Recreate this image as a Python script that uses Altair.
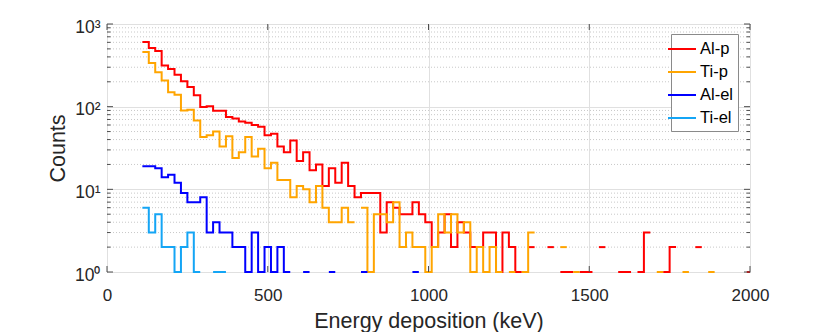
import altair as alt
import pandas as pd

# ---------------- data ----------------
BIN_START = 110      # keV, left edge of first bin
BIN_WIDTH = 20       # keV

series_names = ["Al-p", "Ti-p", "Al-el", "Ti-el"]
series_colors = ["#FF0000", "#FFA500", "#0000FF", "#14A5F5"]

al_p = [607, 513, 472, 314, 286, 244, 203, 173, 137, 99,
        101, 89, 89, 75, 72, 66, 64, 60, 57, 45,
        47, 33, 28, 39, 22, 28, 17, 20, 11, 18,
        12, 21, 11, 8, 9, 9, 9, 3, 7, 6,
        5, 5, 7, 5, 4, 2, 3, 5, 2, 4,
        3, 2, 2, 3, 3, 1, 3, 2, 1, 0,
        2, 0, 0, 2, 0, 1, 1, 0, 1, 1,
        0, 2, 0, 0, 1, 1, 0, 1, 3, 0,
        0, 1, 2, 0, 0, 0, 2, 0, 0, 0,
        0, 0, 0, 0, 1]

ti_p = [459, 338, 260, 207, 149, 139, 90, 92, 68, 43,
        45, 50, 33, 44, 24, 28, 43, 25, 31, 18,
        21, 13, 13, 8, 11, 10, 7, 11, 6, 4,
        4, 6, 4, 0, 6, 1, 5, 5, 4, 7,
        2, 3, 2, 2, 1, 2, 5, 3, 5, 3,
        4, 1, 2, 1, 2, 1, 0, 1, 0, 1,
        3, 0, 0, 0, 0, 2, 0, 1, 0, 0,
        0, 0, 0, 0, 0, 0, 0, 0, 0, 0,
        1, 0, 0, 0, 1, 0, 0, 0, 1, 0,
        0, 0, 0, 0, 0]

al_el = [19, 19, 18, 14, 15, 12, 9, 7, 7, 8,
         3, 4, 3, 3, 2, 2, 1, 3, 1, 2,
         1, 2, 1, 0, 0, 1, 0, 0, 0, 1,
         0, 0, 0, 0, 1, 0, 0, 0, 0, 0,
         0, 0, 1]

ti_el = [6, 3, 5, 2, 2, 1, 2, 3, 1, 0,
         0, 1, 1]

x_ticks = [0, 500, 1000, 1500, 2000]
y_major = [1, 10, 100, 1000]
y_minor = [m * d for d in (1, 10, 100) for m in range(2, 10)]
y_labels = {1: "10⁰", 10: "10¹", 100: "10²", 1000: "10³"}


def step_rows(name, counts):
    """Points for step-after lines; zero-count bins break the line (log axis)."""
    rows = []
    run_id = 0
    for k, c in enumerate(counts):
        if c <= 0:
            continue
        if k == 0 or counts[k - 1] <= 0:
            run_id += 1
        key = f"{name}-{run_id}"
        left = BIN_START + k * BIN_WIDTH
        rows.append({"series": name, "run": key, "energy": left, "count": c})
        nxt = counts[k + 1] if k + 1 < len(counts) else 0
        if nxt <= 0:
            rows.append({"series": name, "run": key, "energy": left + BIN_WIDTH, "count": c})
    return rows


W, H = 643, 248
FONT = "Liberation Sans"
AXIS_COLOR = "#4d4d4d"
TEXT_COLOR = "#262626"

x_scale = alt.Scale(domain=[0, 2000], nice=False, clamp=True)
y_scale = alt.Scale(type="log", domain=[1, 1000], nice=False)
color_scale = alt.Scale(domain=series_names, range=series_colors)

label_expr = " : ".join(
    f"datum.value == {v} ? '{t}'" for v, t in list(y_labels.items())[:-1]
) + f" : '{y_labels[1000]}'"

x_axis = alt.Axis(values=x_ticks, title="Energy deposition (keV)", format="d",
                  tickSize=0, labelPadding=15, titlePadding=7, grid=True, domain=False,
                  labelFlush=False)
y_axis = alt.Axis(values=y_major, title="Counts", labelExpr=label_expr,
                  tickSize=0, labelPadding=7, titlePadding=5, grid=True, domain=False,
                  labelOffset=3, labelFlush=False, labelFontSize=17.5)

legend = alt.Legend(title=None, orient="none", legendX=564, legendY=10,
                    symbolType="M-1.8,0L1,0", symbolSize=400, symbolStrokeWidth=2,
                    labelFontSize=16.5, labelOffset=3, rowPadding=3, padding=4,
                    fillColor="white", strokeColor="#8a8a8a", labelColor="#000000",
                    labelFont=FONT)


def series_layer(name, counts):
    df = pd.DataFrame(step_rows(name, counts))
    return alt.Chart(df).mark_line(interpolate="step-after", strokeWidth=2,
                                   strokeJoin="miter").encode(
        x=alt.X("energy:Q", scale=x_scale, axis=x_axis),
        y=alt.Y("count:Q", scale=y_scale, axis=y_axis),
        color=alt.Color("series:N", scale=color_scale, legend=legend),
        detail="run:N",
    )


minor_df = pd.DataFrame({"value": y_minor})
major_df = pd.DataFrame({"value": y_major})
xt_df = pd.DataFrame({"value": x_ticks})

minor_grid = alt.Chart(minor_df).mark_rule(color="#c8c8c8", strokeDash=[1, 2],
                                           strokeWidth=1).encode(
    y=alt.Y("value:Q", scale=y_scale, axis=y_axis)
)


def y_tick_layer(df, length, side):
    if side == "left":
        xa, xb = alt.value(0), alt.value(length)
    else:
        xa, xb = alt.value(W - length), alt.value(W)
    return alt.Chart(df).mark_rule(color=AXIS_COLOR, strokeWidth=1).encode(
        y=alt.Y("value:Q", scale=y_scale, axis=y_axis), x=xa, x2=xb)


def x_tick_layer(side, length=6):
    if side == "bottom":
        ya, yb = alt.value(H), alt.value(H - length)
    else:
        ya, yb = alt.value(0), alt.value(length)
    return alt.Chart(xt_df).mark_rule(color=AXIS_COLOR, strokeWidth=1).encode(
        x=alt.X("value:Q", scale=x_scale, axis=x_axis), y=ya, y2=yb)


layers = [
    minor_grid,
    series_layer("Al-p", al_p),
    series_layer("Ti-p", ti_p),
    series_layer("Al-el", al_el),
    series_layer("Ti-el", ti_el),
    y_tick_layer(major_df, 6, "left"),
    y_tick_layer(major_df, 6, "right"),
    y_tick_layer(minor_df, 3.5, "left"),
    y_tick_layer(minor_df, 3.5, "right"),
    x_tick_layer("bottom"),
    x_tick_layer("top"),
]

chart = alt.layer(*layers).properties(
    width=W, height=H,
    autosize=alt.AutoSizeParams(type="none"),
    padding={"left": 99, "top": 16, "right": 20, "bottom": 60},
).configure(font=FONT).configure_view(
    stroke=AXIS_COLOR, strokeWidth=1
).configure_axis(
    labelFont=FONT, titleFont=FONT, labelFontSize=17, titleFontSize=21.5,
    titleFontWeight="normal", labelColor=TEXT_COLOR, titleColor=TEXT_COLOR,
    gridColor="#e0e0e0", gridWidth=1
)

chart.save("out.html", embed_options={"renderer": "svg", "actions": False})
